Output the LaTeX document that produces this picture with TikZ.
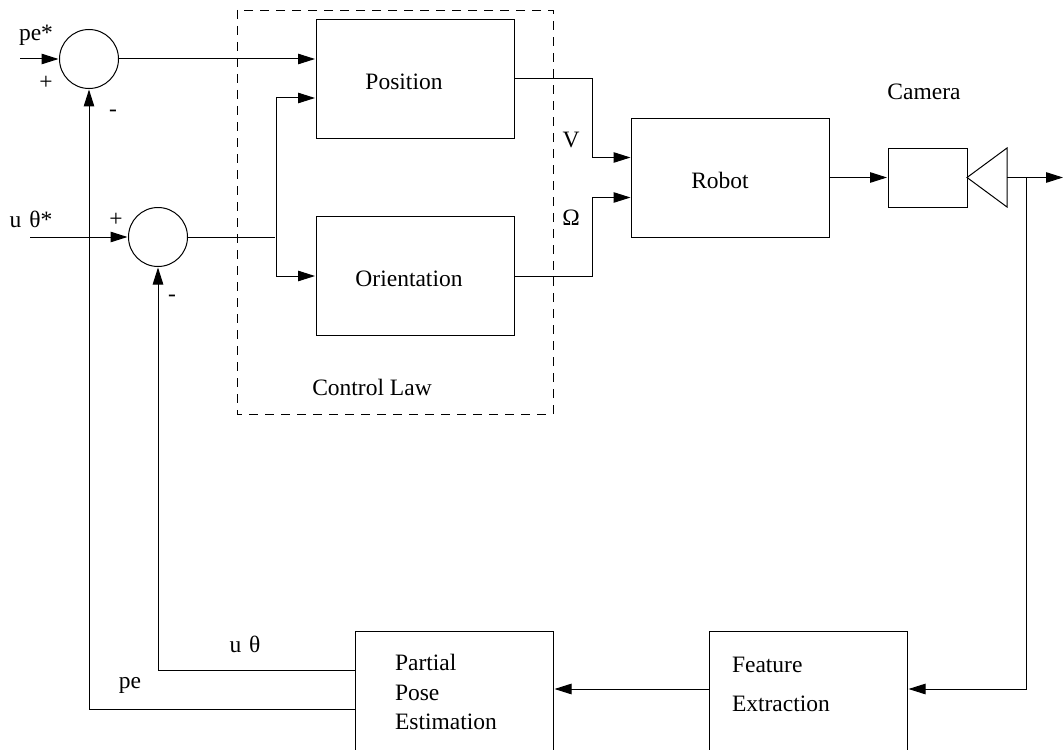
\documentclass[tikz,border=0pt]{standalone}
\usepackage{fontspec}
\setmainfont{Liberation Serif}
\usetikzlibrary{arrows.meta}

\begin{document}
\begin{tikzpicture}[x=1pt,y=-1pt,inner sep=0pt,outer sep=0pt,line width=1pt,
>={Triangle[length=17pt,width=10.5pt]},shorten >=1pt,
font=\fontsize{23.5}{29.5}\selectfont,
sysblock/.style={draw,rectangle,minimum width=198pt,minimum height=119pt},
sumblock/.style={draw,circle,minimum size=59pt}]

\useasboundingbox (0,0) rectangle (1064,749);
\clip (0,0) rectangle (1064,749);

\node[sumblock] (sumpe) at (89,59) {};
\node[sumblock] (sumu) at (158,237) {};
\node[sysblock] (pos) at (415,79) {};
\node[sysblock] (ori) at (415,276) {};
\node[sysblock] (robot) at (730.5,177.5) {};
\node[sysblock,minimum width=79pt,minimum height=59pt] (cam) at (927.5,177.5) {};
\node[sysblock,minimum height=160pt] (pose) at (454.5,711) {};
\node[sysblock,minimum height=160pt] (feat) at (808.5,711) {};

% dashed box round the two controllers
\coordinate (lawa) at (237,10);
\coordinate (lawb) at (553,414);
\draw[dashed,dash pattern=on 9pt off 7pt,line width=.9pt] (lawa) rectangle (lawb);

% camera lens
\coordinate (lens) at (1007,177.5);
\draw (cam.east) -- (lens |- cam.north) -- (lens |- cam.south) -- cycle;

% free ends and branch points
\coordinate (inpe) at (20,59);
\coordinate (inu) at (30,237);
\coordinate (split) at (276,237);
\coordinate (merge) at (592,79);
\coordinate (out) at (1064,177.5);
\coordinate (tap) at (1026,177.5);
\coordinate (fb) at (1026,689);

\draw[->] (inpe) -- (sumpe.west);
\draw[->] (inu) -- (sumu.west);
\draw[->] (sumpe.east) -- (sumpe -| pos.west);
\draw (sumu.east) -- (split);
\draw[->] (split) |- ([yshift=-19pt]pos.west);
\draw[->] (split) |- (ori.west);
\draw[->] (pos.east) -| ([yshift=20pt]robot.west -| merge) -- ([yshift=20pt]robot.west);
\draw[->] (ori.east) -| ([yshift=-20pt]robot.west -| merge) -- ([yshift=-20pt]robot.west);
\draw[->] (robot.east) -- (cam.west);
\draw[->] (lens) -- (out);
\draw[->] (tap) |- (fb -| feat.east);
\draw[->] (fb -| feat.west) -- (fb -| pose.east);
\draw[->] ([yshift=41pt]pose.west) -| (sumu.south);
\draw[->] ([yshift=2pt]pose.west) -| (sumpe.south);

\node (lpos) at (404,82) {Position};
\node (lori) at (409,279) {Orientation};
\node (llaw) at (372,387) {Control Law};
\node (lrobot) at (720,180) {Robot};
\node (lcam) at (924,92) {Camera};
\node (lv) at (571,140) {V};
\node (lom) at (571,218) {Ω};
\node[anchor=west,align=left] (lpose) at (395,692) {Partial\\Pose\\Estimation};
\node[anchor=west] (lfeat) at (732,665) {Feature};
\node[anchor=west] (lext) at (732,704) {Extraction};
\node (lpestar) at (36,35) {pe*};
\node (lustar) at (31,219) {u\hspace{8pt}θ*};
\node (lu) at (245,644) {u\hspace{8pt}θ};
\node (lpe) at (130,685) {pe};
\node (pa) at (46,83) {+};
\node (ma) at (113,113) {-};
\node (pb) at (116,220) {+};
\node (mb) at (172,298) {-};
\end{tikzpicture}
\end{document}
